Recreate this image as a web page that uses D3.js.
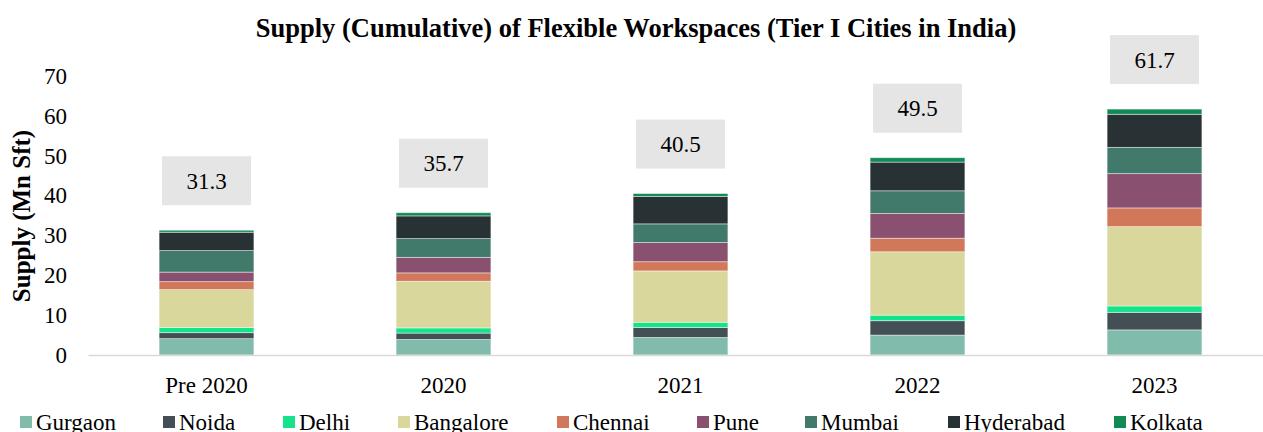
<!DOCTYPE html>
<html>
<head>
<meta charset="utf-8">
<script src="https://cdn.jsdelivr.net/npm/d3@7/dist/d3.min.js"></script>
<style>
  html, body { margin: 0; padding: 0; background: #fff; }
  svg { display: block; }
  text { font-family: "Liberation Serif", "Times New Roman", serif; fill: #000; }
</style>
</head>
<body>
<svg id="chart" width="1263" height="432"></svg>
<script>
// Periods on the x axis
const periods = ["Pre 2020", "2020", "2021", "2022", "2023"];

// City-wise cumulative supply (Mn sq ft), stacked bottom to top
const cities = ["Gurgaon", "Noida", "Delhi", "Bangalore", "Chennai", "Pune", "Mumbai", "Hyderabad", "Kolkata"];
const gurgaon   = [4.1, 3.9, 4.4, 5.0, 6.3];
const noida     = [1.5, 1.6, 2.5, 3.6, 4.4];
const delhi     = [1.3, 1.3, 1.3, 1.4, 1.6];
const bangalore = [9.5, 11.7, 12.9, 15.9, 19.9];
const chennai   = [2.0, 2.1, 2.3, 3.4, 4.7];
const pune      = [2.4, 3.9, 4.8, 6.2, 8.6];
const mumbai    = [5.4, 4.7, 4.7, 5.7, 6.6];
const hyderabad = [4.6, 5.7, 6.9, 7.2, 8.3];
const kolkata   = [0.5, 0.8, 0.7, 1.1, 1.3];

// Totals shown above each bar
const totals = [31.3, 35.7, 40.5, 49.5, 61.7];

// Y axis ticks
const yTicks = [0, 10, 20, 30, 40, 50, 60, 70];

const colors = ["#80bbab", "#434f54", "#15e38b", "#d9d79b", "#d2785a", "#8a5070", "#417a6b", "#283134", "#128a56"];

const seriesValues = [gurgaon, noida, delhi, bangalore, chennai, pune, mumbai, hyderabad, kolkata];
const rows = periods.map((p, i) => {
  const r = { period: p };
  cities.forEach((c, j) => { r[c] = seriesValues[j][i]; });
  return r;
});

const svg = d3.select("#chart");
const plotLeft = 88, plotRight = 1273, plotTop = 76, plotBottom = 355;

const x = d3.scaleBand().domain(periods).range([plotLeft, plotRight]).paddingInner(0.6).paddingOuter(0.3);
const y = d3.scaleLinear().domain([0, 70]).range([plotBottom, plotTop]);

const layers = d3.stack().keys(cities)(rows);
const color = d3.scaleOrdinal().domain(cities).range(colors);

// Title
svg.append("text")
  .attr("x", 636).attr("y", 37)
  .attr("text-anchor", "middle")
  .style("font-size", "26.5px").style("font-weight", "bold")
  .text("Supply (Cumulative) of Flexible Workspaces (Tier I Cities in India)");

// Y axis title
svg.append("text")
  .attr("transform", "translate(30,216) rotate(-90)")
  .attr("text-anchor", "middle")
  .style("font-size", "25px").style("font-weight", "bold")
  .text("Supply (Mn Sft)");

// Y axis (labels only)
const yAxis = d3.axisLeft(y).tickValues(yTicks).tickSize(0).tickPadding(0).tickFormat(d3.format("d"));
const gy = svg.append("g").attr("transform", "translate(67,0)").call(yAxis);
gy.select(".domain").remove();
gy.selectAll("text").style("font-size", "23px").style("font-family", "'Liberation Serif', 'Times New Roman', serif").attr("fill", "#000");

// Stacked bars
svg.append("g").selectAll("g")
  .data(layers).join("g")
  .attr("fill", d => color(d.key))
  .selectAll("rect")
  .data(d => d).join("rect")
  .attr("x", d => x(d.data.period))
  .attr("width", x.bandwidth())
  .attr("y", d => y(d[1]))
  .attr("height", d => y(d[0]) - y(d[1]))
  .attr("stroke", "#ffffff")
  .attr("stroke-opacity", 0.55)
  .attr("stroke-width", 0.8);

// X axis
const xAxis = d3.axisBottom(x).tickSize(0).tickPadding(22);
const gx = svg.append("g").attr("transform", `translate(0,${plotBottom})`).call(xAxis);
gx.select(".domain").attr("stroke", "#d9d9d9").attr("stroke-width", 1.3);
gx.selectAll("text").style("font-size", "23px").style("font-family", "'Liberation Serif', 'Times New Roman', serif").attr("fill", "#000");

// Total labels in grey boxes
const boxW = 89, boxH = 49, gap = 25;
const lbl = svg.append("g").selectAll("g").data(periods).join("g");
lbl.append("rect")
  .attr("x", (p) => x(p) + x.bandwidth() / 2 - boxW / 2)
  .attr("y", (p, i) => y(totals[i]) - gap - boxH)
  .attr("width", boxW).attr("height", boxH)
  .attr("fill", "#e5e5e5");
lbl.append("text")
  .attr("x", (p) => x(p) + x.bandwidth() / 2)
  .attr("y", (p, i) => y(totals[i]) - gap - boxH / 2 + 8)
  .attr("text-anchor", "middle")
  .style("font-size", "23px")
  .text((p, i) => totals[i].toFixed(1));

// Legend
const legendX = [20, 163, 283, 398, 557, 697, 805, 948, 1114];
const lg = svg.append("g").selectAll("g").data(cities).join("g")
  .attr("transform", (d, i) => `translate(${legendX[i]},0)`);
lg.append("rect").attr("x", 0).attr("y", 416).attr("width", 12).attr("height", 12)
  .attr("fill", d => color(d));
lg.append("text").attr("x", 16).attr("y", 430)
  .style("font-size", "23px")
  .text(d => d);
</script>
</body>
</html>
